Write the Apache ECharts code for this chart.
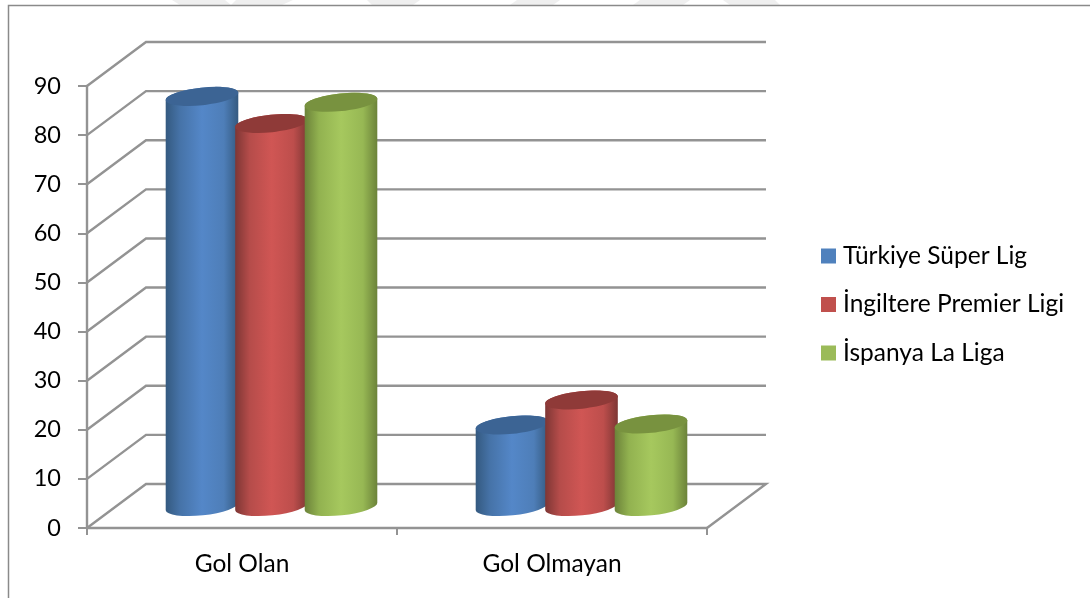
<!DOCTYPE html>
<html><head><meta charset="utf-8">
<style>html,body{margin:0;padding:0;background:#fff}#c{width:1090px;height:598px}</style>
<script src="https://cdn.jsdelivr.net/npm/echarts@6/dist/echarts.min.js"></script>
</head><body><div id="c"></div>
<script>
const categories = ['Gol Olan', 'Gol Olmayan'];
const seriesNames = ['Türkiye Süper Lig', 'İngiltere Premier Ligi', 'İspanya La Liga'];
const turkiye = [83.5, 16.6];
const ingiltere = [78, 21.7];
const ispanya = [82.3, 16.8];
const yTicks = [0, 10, 20, 30, 40, 50, 60, 70, 80, 90];

const depthX = 59, depthY = -44;
const GREY = '#939393';
const FONT = 'Lato';
const LABEL_SIZE = 24.5;

const chart = echarts.init(document.getElementById('c'), null, {renderer: 'canvas'});

function wallItem(params, api) {
  const v = api.value(0);
  const a = api.coord([0, v]);
  const left = params.coordSys.x, right = params.coordSys.x + params.coordSys.width;
  const pts = [[left, a[1]], [left + depthX, a[1] + depthY], [right + depthX, a[1] + depthY]];
  if (v === 0) pts.push([right, a[1]]);
  return {type: 'polyline', shape: {points: pts}, style: {stroke: GREY, lineWidth: 2.4, fill: null}, silent: true};
}

const palettes = [
  {stops: ['#34597f', '#4673a8', '#5487c8', '#4e7eb8', '#34597f'], top: '#3c6494'},
  {stops: ['#7d3634', '#b54c4a', '#d05654', '#bd4e4c', '#7d3634'], top: '#8f3a38'},
  {stops: ['#6b8239', '#92b250', '#a6c85e', '#97b854', '#6b8239'], top: '#78923f'}
];

function cylinder(idx) {
  return function (params, api) {
    const cat = api.value(0), val = api.value(1);
    const base = api.coord([cat, 0]);
    const top = api.coord([cat, val]);
    const cx = base[0] + depthX / 2 + (idx - 1) * 69.5;
    const yb = base[1] + depthY / 2 + 0.5, yt = top[1] + depthY / 2 + 0.5;
    const a = 36.5, b = 8.8, theta = -6 * Math.PI / 180;
    const dx = a * Math.cos(theta), dy = a * Math.sin(theta);
    const p = palettes[idx];
    const d = `M ${cx - dx} ${yt - dy} L ${cx - dx} ${yb - dy} A ${a} ${b} -6 0 0 ${cx + dx} ${yb + dy} L ${cx + dx} ${yt + dy} A ${a} ${b} -6 0 0 ${cx - dx} ${yt - dy} Z`;
    return {
      type: 'group',
      children: [
        {type: 'path', shape: {pathData: d},
         style: {fill: {type: 'linear', x: 0, y: 0, x2: 1, y2: 0, colorStops: [
           {offset: 0, color: p.stops[0]}, {offset: 0.2, color: p.stops[1]}, {offset: 0.5, color: p.stops[2]},
           {offset: 0.8, color: p.stops[3]}, {offset: 1, color: p.stops[4]}]}}},
        {type: 'ellipse', shape: {cx: cx, cy: yt, rx: a, ry: b}, rotation: -theta, originX: cx, originY: yt,
         style: {fill: p.top}}
      ]
    };
  };
}

const colors = ['#4f81bd', '#c0504d', '#9bbb59'];
const valuesBySeries = [turkiye, ingiltere, ispanya];
const watermark = [
  [[172,0],[225,0],[231,5],[180,5]], [[236,0],[293,0],[282,5],[231,5]],
  [[367,0],[420,0],[413,5],[372,5]], [[517,0],[560,0],[553,5],[510,5]],
  [[640,0],[690,0],[683,5],[633,5]], [[723,0],[775,0],[780,5],[730,5]]
];

const option = {
  animation: false,
  backgroundColor: '#fff',
  textStyle: {fontFamily: FONT},
  grid: {left: 87, top: 86, width: 620, height: 442},
  legend: {
    orient: 'vertical', left: 816, top: 237.5, itemWidth: 15, itemHeight: 15, itemGap: 21.5,
    icon: 'rect', data: seriesNames,
    textStyle: {fontFamily: FONT, fontSize: LABEL_SIZE, color: '#000', padding: [0, 0, 0, 2], height: 27, lineHeight: 27}
  },
  xAxis: {
    type: 'category', data: categories, boundaryGap: true,
    axisLine: {show: true, lineStyle: {color: GREY, width: 2.4}},
    axisTick: {show: true, length: 7, alignWithLabel: false, lineStyle: {color: GREY, width: 2}},
    axisLabel: {fontFamily: FONT, fontSize: LABEL_SIZE, color: '#000', margin: 24},
    splitLine: {show: false}
  },
  yAxis: {
    type: 'value', min: 0, max: 90, interval: 10,
    axisLine: {show: true, lineStyle: {color: GREY, width: 2.4}},
    axisTick: {show: true, length: 9, lineStyle: {color: GREY, width: 2}},
    axisLabel: {fontFamily: FONT, fontSize: 23.5, color: '#000', margin: 26, padding: [6, 0, 0, 0]},
    splitLine: {show: false}
  },
  graphic: [
    ...watermark.map(points => ({type: 'polygon', shape: {points}, style: {fill: '#efefef'}, silent: true, z: -1})),
    {type: 'polyline', shape: {points: [[8.5, 598], [8.5, 5.5], [1090, 5.5]]}, style: {stroke: '#8a8a8a', lineWidth: 1.5, fill: null}, silent: true}
  ],
  series: [
    {type: 'custom', name: 'wall', coordinateSystem: 'cartesian2d', renderItem: wallItem, data: yTicks.map(v => [v]), encode: {x: -1, y: 0}, z: 1, silent: true},
    ...seriesNames.map((name, i) => ({
      type: 'custom', name, coordinateSystem: 'cartesian2d', renderItem: cylinder(i),
      itemStyle: {color: colors[i]},
      data: valuesBySeries[i].map((v, c) => [c, v]), encode: {x: 0, y: 1}, z: 2 + i
    }))
  ]
};
chart.setOption(option);
</script></body></html>
